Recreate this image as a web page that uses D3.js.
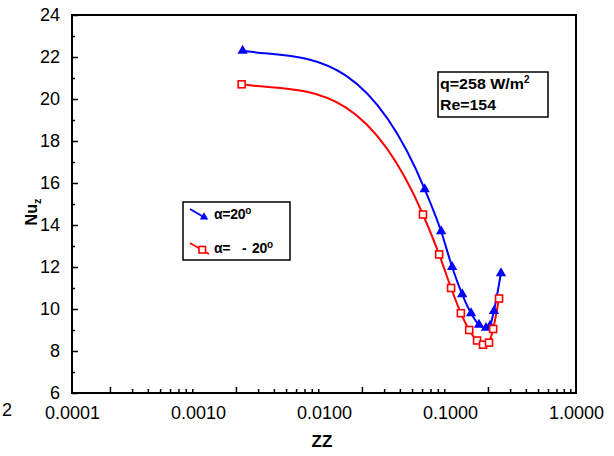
<!DOCTYPE html>
<html>
<head>
<meta charset="utf-8">
<script src="https://cdn.jsdelivr.net/npm/d3@7"></script>
<style>
  html, body { margin: 0; padding: 0; background: #fff; }
  svg { display: block; font-family: "Liberation Sans", Arial, sans-serif; }
</style>
</head>
<body>
<svg id="chart" width="614" height="456"></svg>
<script>
// Local Nusselt number along the tube, two inclination angles
const zzUp = [0.00226, 0.063, 0.085, 0.104, 0.125, 0.147, 0.170, 0.193, 0.208, 0.223, 0.254];
const nuUp = [22.3, 15.7, 13.7, 12.0, 10.7, 9.8, 9.25, 9.1, 9.2, 9.9, 11.7];
const zzDown = [0.00222, 0.061, 0.082, 0.102, 0.122, 0.142, 0.164, 0.183, 0.204, 0.220, 0.245];
const nuDown = [20.7, 14.5, 12.6, 11.0, 9.8, 9.0, 8.5, 8.3, 8.4, 9.05, 10.5];

const xTickValues = [0.0001, 0.001, 0.01, 0.1, 1];
const yTickValues = [6, 8, 10, 12, 14, 16, 18, 20, 22, 24];

const svg = d3.select("#chart");
const plotLeft = 72, plotRight = 576, plotTop = 15, plotBottom = 393;

const x = d3.scaleLog().domain([0.0001, 1]).range([plotLeft, plotRight]);
const y = d3.scaleLinear().domain([6, 24]).range([plotBottom, plotTop]);

// Cubic Hermite curve: gentle start, three-point derivative inside
function HermiteCurve(context) { this._context = context; }
HermiteCurve.prototype = {
  areaStart() { this._line = 0; },
  areaEnd() { this._line = NaN; },
  lineStart() { this._px = []; this._py = []; },
  point(px, py) { this._px.push(+px); this._py.push(+py); },
  lineEnd() {
    const X = this._px, Y = this._py, n = X.length, c = this._context;
    if (!n) return;
    const h = [], s = [];
    for (let i = 0; i < n - 1; i++) { h[i] = X[i + 1] - X[i]; s[i] = (Y[i + 1] - Y[i]) / h[i]; }
    const t = new Array(n);
    t[0] = 0.2 * s[0];
    for (let i = 1; i < n - 1; i++) t[i] = (h[i] * s[i - 1] + h[i - 1] * s[i]) / (h[i - 1] + h[i]);
    t[n - 1] = s[n - 2];
    c.moveTo(X[0], Y[0]);
    for (let i = 0; i < n - 1; i++) {
      const d = h[i] / 3;
      c.bezierCurveTo(X[i] + d, Y[i] + t[i] * d, X[i + 1] - d, Y[i + 1] - t[i + 1] * d, X[i + 1], Y[i + 1]);
    }
  }
};
const curveHermite = ctx => new HermiteCurve(ctx);

const upData = zzUp.map((z, i) => [z, nuUp[i]]);
const downData = zzDown.map((z, i) => [z, nuDown[i]]);
const line = d3.line().x(d => x(d[0])).y(d => y(d[1])).curve(curveHermite);

// Frame
svg.append("rect").attr("x", plotLeft).attr("y", plotTop)
  .attr("width", plotRight - plotLeft).attr("height", plotBottom - plotTop)
  .attr("fill", "none").attr("stroke", "#000").attr("stroke-width", 2);

// Y axis
const yAxis = svg.append("g").attr("transform", `translate(${plotLeft},0)`)
  .call(d3.axisLeft(y).tickValues(yTickValues).tickSize(-6).tickPadding(12));
yAxis.select(".domain").remove();
yAxis.selectAll(".tick line").attr("stroke-width", 1.5);
yAxis.selectAll(".tick text").attr("font-size", 18).attr("fill", "#000")
  .attr("font-family", "Liberation Sans, Arial, sans-serif");
const yMinor = d3.range(7, 24, 2);
svg.append("g").attr("transform", `translate(${plotLeft},0)`)
  .call(d3.axisLeft(y).tickValues(yMinor).tickSize(-3).tickFormat(""))
  .call(g => g.select(".domain").remove())
  .selectAll(".tick line").attr("stroke-width", 1.5);

// X axis
const xAxis = svg.append("g").attr("transform", `translate(0,${plotBottom})`)
  .call(d3.axisBottom(x).tickValues(xTickValues).tickSize(0).tickPadding(13).tickFormat(d3.format(".4f")));
xAxis.select(".domain").remove();
xAxis.selectAll(".tick text").attr("font-size", 18).attr("fill", "#000")
  .attr("font-family", "Liberation Sans, Arial, sans-serif");
const xMinor = [];
for (let e = -4; e < 0; e++) for (let m = 2; m <= 9; m++) xMinor.push(m * Math.pow(10, e));
svg.append("g").attr("transform", `translate(0,${plotBottom})`)
  .call(d3.axisBottom(x).tickValues(xMinor).tickSize(-4).tickFormat(""))
  .call(g => g.select(".domain").remove())
  .selectAll(".tick line").attr("stroke-width", 1.5)
  .attr("y2", d => Math.abs(d / Math.pow(10, Math.floor(Math.log10(d) + 1e-9)) - 2) < 1e-6 ? -6 : -4);

// Stray tick label at the far left
svg.append("text").attr("x", 2).attr("y", 416).attr("font-size", 18).text("2");

// Axis titles
svg.append("text").attr("x", 322).attr("y", 447).attr("text-anchor", "middle")
  .attr("font-size", 17).attr("font-weight", "bold").text("ZZ");
const yt = svg.append("text").attr("transform", "translate(37,212) rotate(-90)")
  .attr("text-anchor", "middle").attr("font-size", 16).attr("font-weight", "bold");
yt.append("tspan").text("Nu");
yt.append("tspan").attr("font-size", 11).attr("dy", 4).text("z");

// Series lines
svg.append("path").datum(upData).attr("d", line)
  .attr("fill", "none").attr("stroke", "#0000ff").attr("stroke-width", 2);
svg.append("path").datum(downData).attr("d", line)
  .attr("fill", "none").attr("stroke", "#ff0000").attr("stroke-width", 2);

// Markers
const tri = d3.symbol(d3.symbolTriangle, 46);
svg.append("g").selectAll("path").data(upData).join("path")
  .attr("d", tri).attr("transform", d => `translate(${x(d[0])},${y(d[1])})`)
  .attr("fill", "#0000ff");
svg.append("g").selectAll("rect").data(downData).join("rect")
  .attr("x", d => x(d[0]) - 3.5).attr("y", d => y(d[1]) - 3.5)
  .attr("width", 7).attr("height", 7)
  .attr("fill", "#fff").attr("stroke", "#ff0000").attr("stroke-width", 1.6);

// Legend
const lg = svg.append("g");
lg.append("rect").attr("x", 183).attr("y", 202).attr("width", 107).attr("height", 58)
  .attr("fill", "#fff").attr("stroke", "#000").attr("stroke-width", 1.5);
lg.append("line").attr("x1", 190).attr("y1", 209).attr("x2", 207).attr("y2", 219)
  .attr("stroke", "#0000ff").attr("stroke-width", 2);
lg.append("path").attr("d", d3.symbol(d3.symbolTriangle, 30))
  .attr("transform", "translate(204,217)").attr("fill", "#0000ff");
lg.append("line").attr("x1", 190).attr("y1", 243).attr("x2", 209).attr("y2", 254)
  .attr("stroke", "#ff0000").attr("stroke-width", 1.6);
lg.append("rect").attr("x", 199).attr("y", 246.5).attr("width", 6.5).attr("height", 6.5)
  .attr("fill", "#fff").attr("stroke", "#ff0000").attr("stroke-width", 1.6);
const l1 = lg.append("text").attr("x", 214).attr("y", 219).attr("font-size", 14)
  .attr("font-weight", "bold").attr("letter-spacing", -0.3);
l1.append("tspan").text("α=20");
l1.append("tspan").attr("font-size", 10).attr("dy", -5).text("o");
const l2 = lg.append("text").attr("y", 253).attr("font-size", 14)
  .attr("font-weight", "bold").attr("letter-spacing", -0.3);
l2.append("tspan").attr("x", 214).text("α=");
l2.append("tspan").attr("x", 242).text("-");
l2.append("tspan").attr("x", 252).text("20");
l2.append("tspan").attr("font-size", 10).attr("dy", -5).text("o");

// Operating conditions
const cb = svg.append("g");
cb.append("rect").attr("x", 438).attr("y", 72).attr("width", 110).attr("height", 45)
  .attr("fill", "#fff").attr("stroke", "#000").attr("stroke-width", 1.5);
const c1 = cb.append("text").attr("x", 440).attr("y", 89).attr("font-size", 14)
  .attr("font-weight", "bold");
c1.append("tspan").attr("textLength", 84).attr("lengthAdjust", "spacingAndGlyphs").text("q=258 W/m");
c1.append("tspan").attr("font-size", 10).attr("dy", -6).text("2");
cb.append("text").attr("x", 440).attr("y", 110).attr("font-size", 14)
  .attr("font-weight", "bold").attr("textLength", 56).attr("lengthAdjust", "spacingAndGlyphs")
  .text("Re=154");
</script>
</body>
</html>
